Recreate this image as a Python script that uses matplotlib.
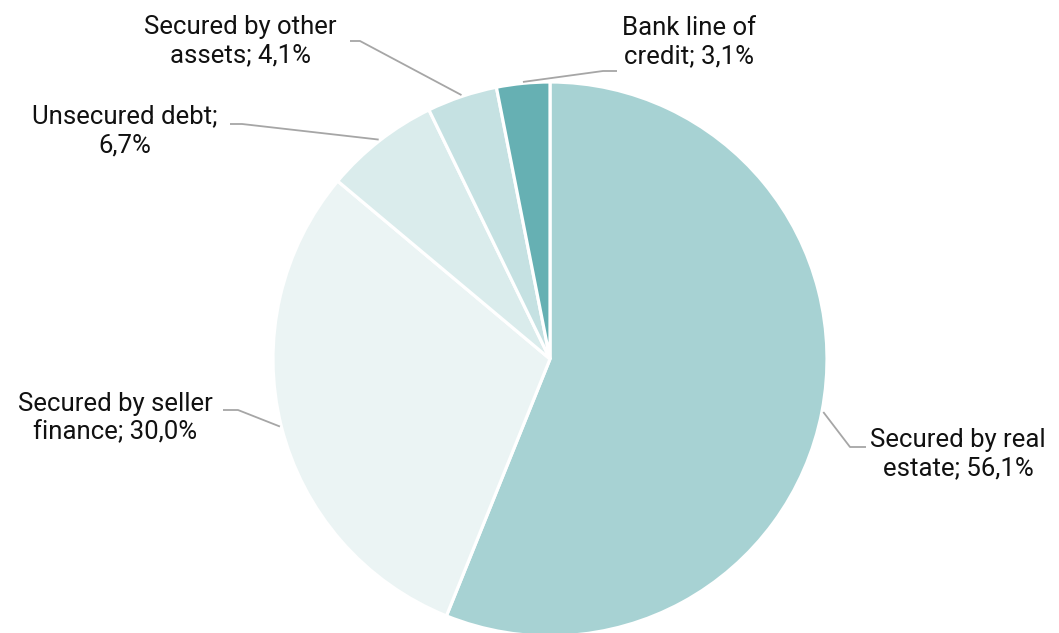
import numpy as np
import matplotlib.pyplot as plt

# data
labels = ['Secured by real\nestate; 56,1%', 'Secured by seller\nfinance; 30,0%',
          'Unsecured debt;\n6,7%', 'Secured by other\nassets; 4,1%',
          'Bank line of\ncredit; 3,1%']
values = [56.1, 30.0, 6.7, 4.1, 3.1]
colors = ['#a7d2d3', '#ebf4f4', '#daecec', '#c5e1e2', '#66b0b3']

W, H = 1059, 633
fig = plt.figure(figsize=(W / 100, H / 100), dpi=100)
ax = fig.add_axes([0, 0, 1, 1])

cx, cy, r = 550, H - 359, 277
wedges, _ = ax.pie(values, colors=colors, startangle=90, counterclock=False,
                   center=(cx, cy), radius=r, frame=True,
                   wedgeprops=dict(edgecolor='white', linewidth=2.3))
ax.set_xlim(0, W)
ax.set_ylim(0, H)
ax.axis('off')

# label layout in pixel coords: (knee x, knee y, end x, text x, text y, ha)
layout = [
    (850, 447, 866, 958, 454, 'center'),
    (238, 410, 223, 115, 418, 'center'),
    (242, 124, 230, 125, 131, 'center'),
    (360, 41, 350, 240, 41, 'center'),
    (603, 71, 617, 689, 42, 'center'),
]

for w, lab, (kx, ky, ex, tx, ty, ha) in zip(wedges, labels, layout):
    ang = np.deg2rad((w.theta1 + w.theta2) / 2)
    px, py = cx + r * 1.005 * np.cos(ang), cy + r * 1.005 * np.sin(ang)
    ax.plot([px, kx, ex], [py, H - ky, H - ky], color='#a6a6a6', lw=1.3,
            solid_capstyle='butt')
    ax.text(tx, H - ty, lab, ha=ha, va='center', fontsize=18.5,
            family='Roboto', color='#111111', linespacing=1.25)

fig.savefig('out.png', dpi=100)
